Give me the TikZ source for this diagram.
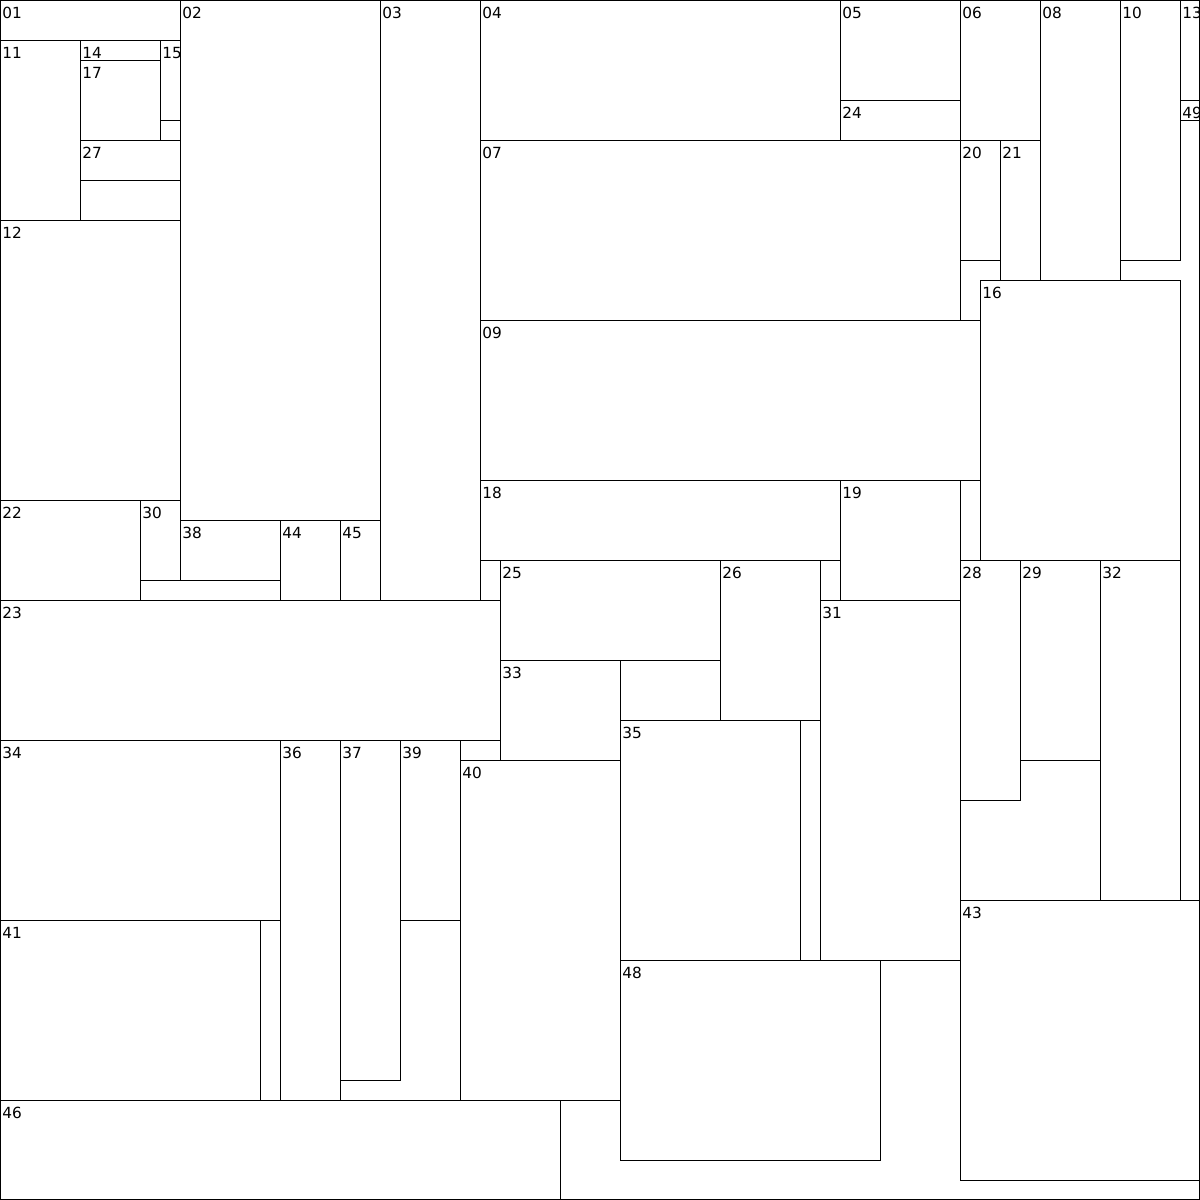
\documentclass[tikz,border=0pt]{standalone}
\usepackage{fontspec}
\setmainfont{DejaVu Sans}
\usepackage{tikz}
\usetikzlibrary{positioning}

\tikzset{
  blk/.style={draw=black,line width=0.75pt},
  lbl/.style={anchor=base west,inner sep=0pt,font=\fontsize{11.5}{13}\selectfont}
}

\begin{document}
\begin{tikzpicture}[x=0.75pt,y=-0.75pt]
  \useasboundingbox (0,0) rectangle (1200,1200);
  \draw[blk] (0.5,0.5) rectangle (1199.5,1199.5);
  % packed blocks: x1/y1/x2/y2/label
  \foreach \xa/\ya/\xb/\yb/\t in {
      0/0/180/40/01, 180/0/380/520/02, 380/0/480/600/03, 480/0/840/140/04,
      840/0/960/100/05, 960/0/1040/140/06, 480/140/960/320/07, 1040/0/1120/280/08,
      480/320/980/480/09, 1120/0/1180/260/10, 0/40/80/220/11, 0/220/180/500/12,
      1180/0/1200/100/13, 80/40/160/60/14, 160/40/180/120/15, 980/280/1180/560/16,
      80/60/160/140/17, 480/480/840/560/18, 840/480/960/600/19, 960/140/1000/260/20,
      1000/140/1040/280/21, 0/500/140/600/22, 0/600/500/740/23, 840/100/960/140/24,
      500/560/720/660/25, 720/560/820/720/26, 80/140/180/180/27, 960/560/1020/800/28,
      1020/560/1100/760/29, 140/500/180/580/30, 820/600/960/960/31, 1100/560/1180/900/32,
      500/660/620/760/33, 0/740/280/920/34, 620/720/800/960/35, 280/740/340/1100/36,
      340/740/400/1080/37, 180/520/280/580/38, 400/740/460/920/39, 460/760/620/1100/40,
      0/920/260/1100/41, 960/900/1200/1180/43, 280/520/340/600/44, 340/520/380/600/45,
      0/1100/560/1200/46, 620/960/880/1160/48, 1180/100/1200/120/49}
  {
    \draw[blk] (\xa,\ya) rectangle (\xb,\yb);
    \begin{scope}
      \clip (\xa,\ya) rectangle (\xb,\yb);
      \node[lbl] (b\t) at ({\xa+2},{\ya+18.5}) {\t};
    \end{scope}
  }
\end{tikzpicture}
\end{document}
